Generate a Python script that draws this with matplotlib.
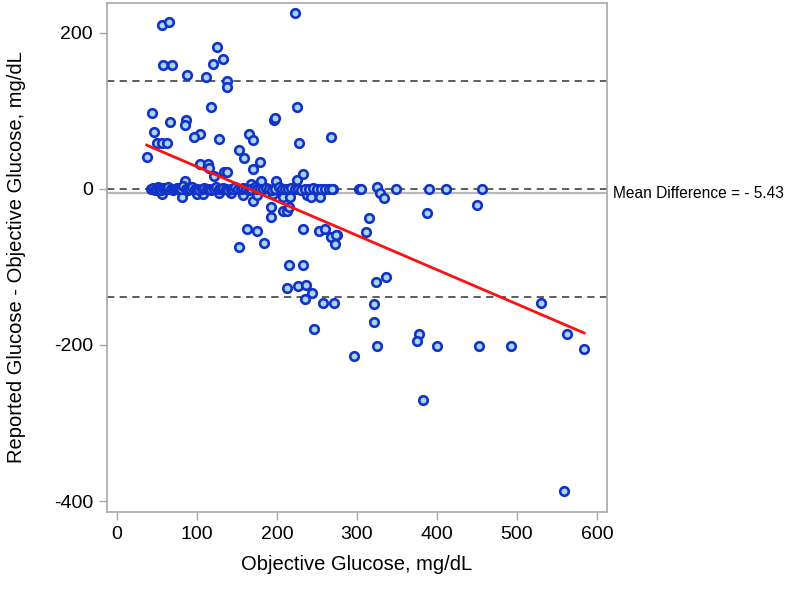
import matplotlib.pyplot as plt
import numpy as np

# === DATA ===
# scattered points away from the zero band
objective = [
    56, 65, 57, 69, 88, 111, 125, 120, 133, 137, 137.5, 222.5, 225, 117.5,
    44, 46, 66, 86, 85, 104, 96.6, 50.4, 56, 63, 128, 165, 170.5, 196, 198,
    228, 267.5, 37, 152.5, 159, 170.5, 179, 104, 114, 114.6, 121.6, 134, 137,
    85, 180, 199, 224.6, 233, 167, 302,
    56, 81, 100.4, 107, 128, 143, 158, 170.5, 174.6, 195, 207, 216, 237, 243, 254,
    193, 193, 207, 212, 215, 162, 175, 153, 184, 232, 252, 260, 267.5, 275, 273,
    215, 232.5, 213, 226, 236, 244, 234.6, 257, 271.6, 246,
    270, 305, 324.6, 329, 334, 349, 390.4, 411, 456,
    449.6, 387, 315, 311.6, 274, 324, 336, 321.7, 321, 529.6, 562, 584,
    324.6, 378, 375.4, 400, 452.5, 493, 296, 382, 559,
]
difference = [
    210, 214, 159, 159, 146, 143, 182, 160, 166, 138, 131, 225, 105, 105,
    97, 73, 85, 88, 82, 70.5, 67, 58.5, 58.5, 58.5, 64, 70.5, 62, 88, 91,
    59, 66, 41, 50, 39, 26, 34.6, 32, 32, 26.5, 17, 21, 22,
    10, 10, 10, 11.5, 19, 6, 0,
    -7, -10, -7, -7, -6, -6, -8.5, -15, -8.5, -7, -10, -10, -8.5, -10, -10,
    -23.5, -36, -29, -29, -22.7, -51, -53.5, -74, -69, -51, -53.5, -51, -62, -58.6, -70.5,
    -97, -97, -127, -125, -123.5, -133, -141, -146, -146, -179.5,
    0, 0, 2, -5, -12, 0, 0, 0, 0,
    -21, -31, -38, -55, -59, -119, -113, -148, -171, -146.5, -186, -205,
    -202, -186, -195, -201, -201, -201, -214, -271, -387,
]

# dense band of (near) zero differences
zero_band_x = [
    42, 45, 47, 49, 51, 53, 55, 58, 60, 62, 64, 67, 70, 72, 75, 77, 80, 83,
    86, 89, 91, 94, 97, 100, 103, 106, 109, 112, 115, 118, 121, 124, 127,
    130, 133, 136, 139, 142, 145, 148, 151, 155, 158, 161, 165, 168, 172,
    175, 179, 182, 186, 190, 194, 198, 202, 206, 210, 214, 218, 222, 226,
    230, 235, 240, 245, 250, 255, 260, 265, 269,
]
zero_band_y = [
    0, 1, -1, 0, 2, 0, -1, 1, 0, 0, 2, 0, -2, 0, 1, 0, 0, 3, 0, -1, 0, 2,
    0, 0, -1, 0, 1, 0, 0, -2, 0, 2, 0, 0, 1, 0, -1, 0, 0, 2, 0, 0, 1, 0,
    -1, 0, 2, 0, 0, 0, 1, 0, -1, 0, 2, 0, 0, 0, 1, 0, 0, -1, 0, 0, 1, 0,
    0, 0, 0, 0,
]

mean_diff = -5.43
upper_loa = 138.5
lower_loa = -138.0
fit_intercept = 72.3
fit_slope = -0.44

x_ticks = [0, 100, 200, 300, 400, 500, 600]
y_ticks = [200, 0, -200, -400]

# === PLOT ===
plt.rcParams['font.family'] = ['Liberation Sans', 'DejaVu Sans']
plt.rcParams['axes.unicode_minus'] = False
frame_grey = '#A8A8A8'

fig = plt.figure(figsize=(7.89, 5.91), dpi=100)
ax = fig.add_axes([0.1356, 0.1337, 0.6337, 0.8612])

all_x = np.array(objective + zero_band_x)
all_y = np.array(difference + zero_band_y)

# reference lines
ax.axhline(mean_diff, color='#B8B8B8', linewidth=1.6, zorder=1)
for level in (0, upper_loa, lower_loa):
    ax.axhline(level, color='#505050', linewidth=1.3, linestyle=(0, (4, 3)), zorder=2)

ax.scatter(all_x, all_y, s=38, facecolor='#A9D6EC', edgecolor='#1232C8',
           linewidth=1.9, zorder=3)

# fitted line over the range of the data
fit_x = np.array([all_x.min(), all_x.max()])
ax.plot(fit_x, fit_intercept + fit_slope * fit_x, color='#FF1010', linewidth=2, zorder=4)

ax.set_xlim(-12.5, 612.5)
ax.set_ylim(-414, 238)
ax.set_xticks(x_ticks)
ax.set_yticks(y_ticks)
ax.tick_params(direction='out', length=6, width=1, color=frame_grey,
               labelsize=14, pad=4)
for spine in ax.spines.values():
    spine.set_color(frame_grey)
    spine.set_linewidth(1.2)

ax.set_xlabel('Objective Glucose, mg/dL', fontsize=14.5, labelpad=9)
ax.set_ylabel('Reported Glucose - Objective Glucose, mg/dL', fontsize=14.5, labelpad=20)

ax.text(1.012, mean_diff, 'Mean Difference = - 5.43', transform=ax.get_yaxis_transform(),
        fontsize=11.2, va='center', ha='left', clip_on=False)

fig.savefig('out.png', dpi=100)
